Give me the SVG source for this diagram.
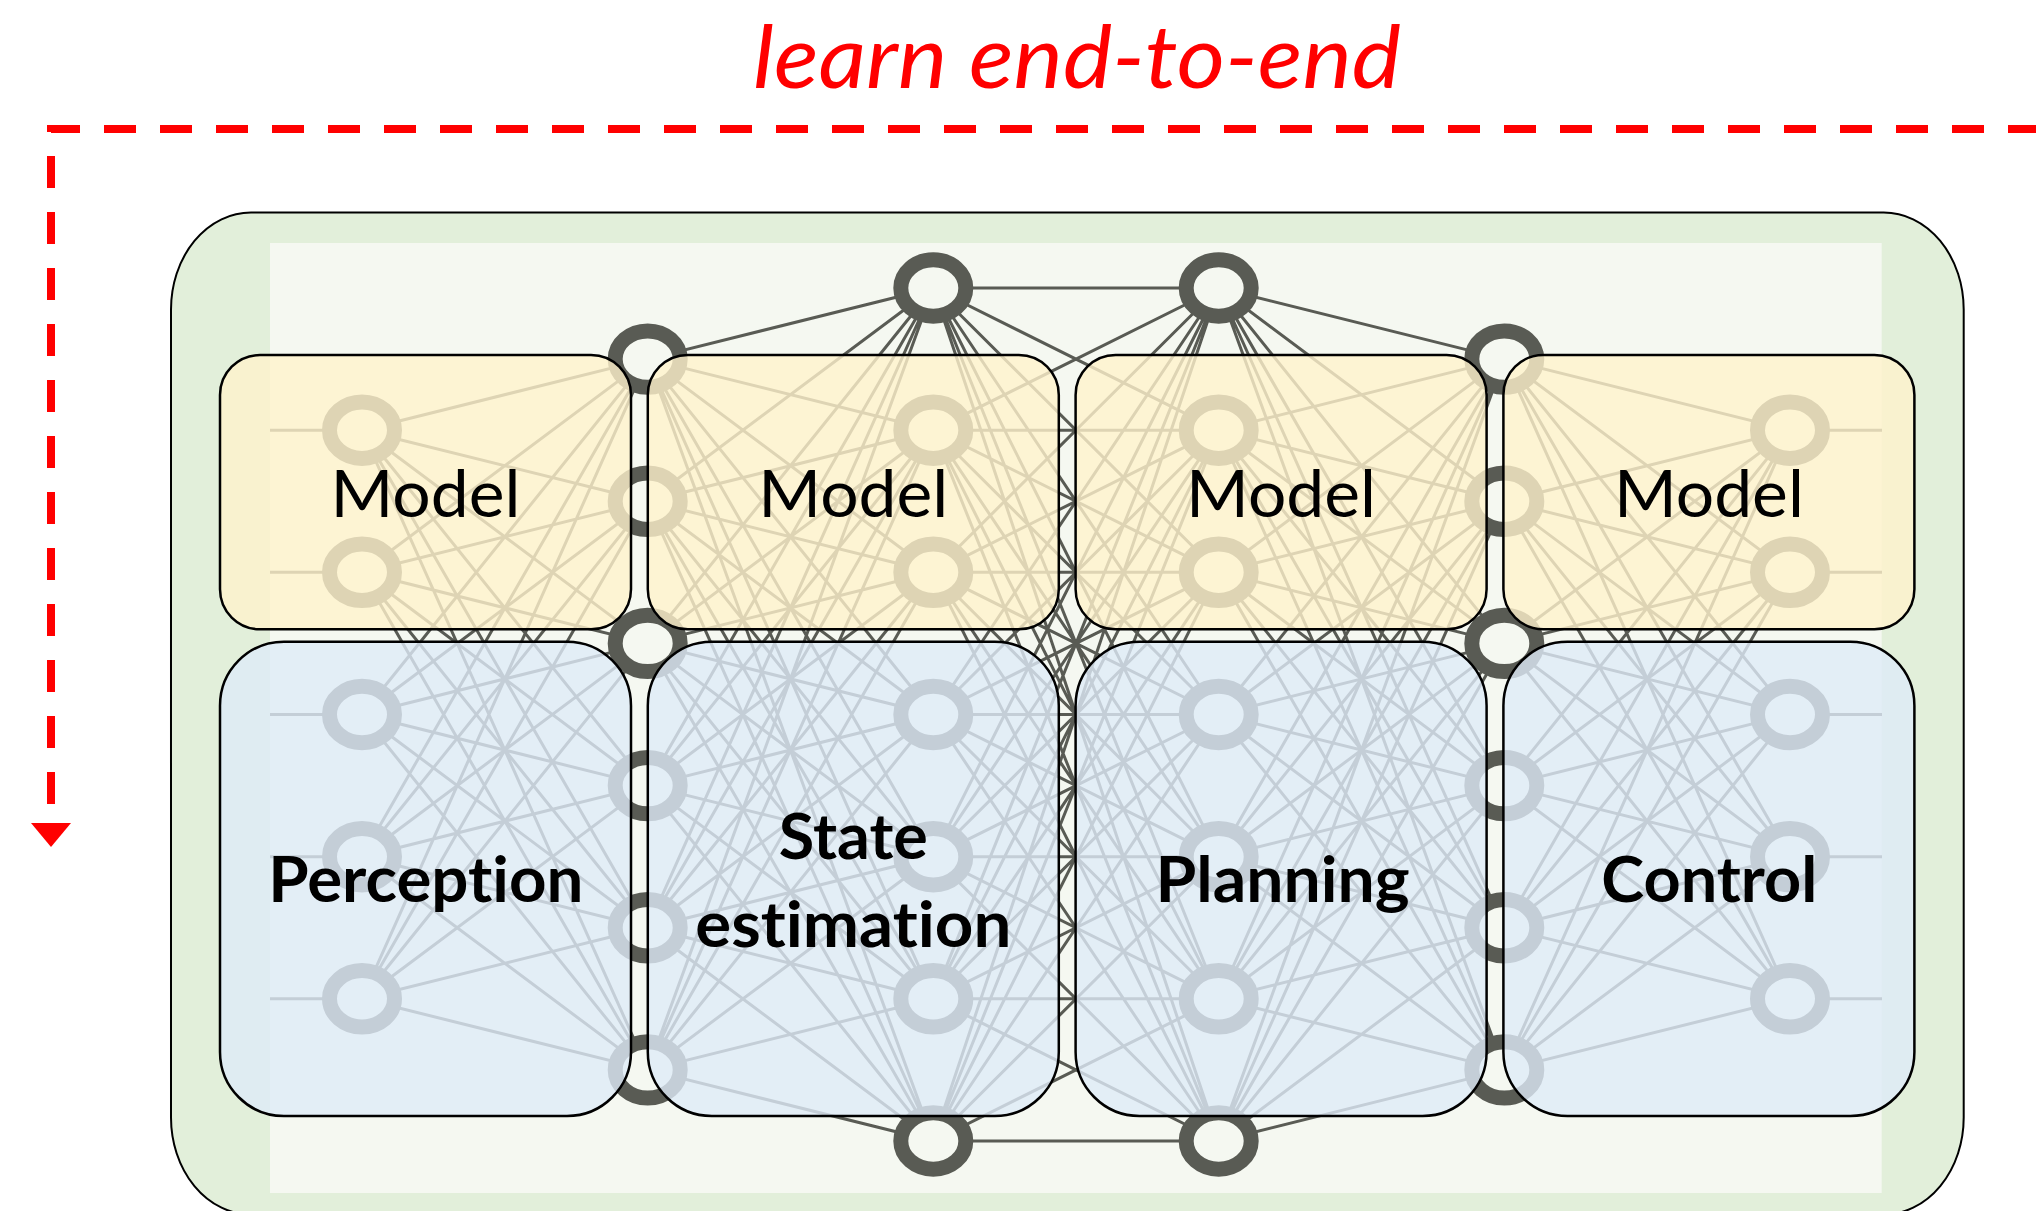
<svg xmlns="http://www.w3.org/2000/svg" xmlns:xlink="http://www.w3.org/1999/xlink" width="2036" height="1211" viewBox="0 0 2036 1211">
  <style>
    text { font-variant-ligatures: none; font-feature-settings: "liga" 0, "clig" 0; }
    .title { font-family: Lato, "Open Sans", "Liberation Sans", sans-serif; font-style: italic; font-size: 88px; fill: #ff0000; }
    .lbl { font-family: Lato, "Open Sans", "Liberation Sans", sans-serif; font-size: 66px; fill: #000; text-anchor: middle; }
    .lblb { font-family: Lato, "Open Sans", "Liberation Sans", sans-serif; font-size: 64px; font-weight: bold; fill: #000; text-anchor: middle; }
    .edge { fill: none; stroke: #595b54; stroke-width: 3; }
    .neuron { fill: #f5f8f1; stroke: #595b54; stroke-width: 15; }
    .model { fill: #fff2cc; fill-opacity: 0.8; stroke: #000; stroke-width: 2.5; }
    .stage { fill: #deebf7; fill-opacity: 0.8; stroke: #000; stroke-width: 2.5; }
    .e2e { fill: none; stroke: #ff0000; stroke-width: 8; stroke-dasharray: 32 24; }
  </style>
  <defs>
    <ellipse id="n" class="neuron" cx="0" cy="0" rx="32.5" ry="28.2"/>
    <marker id="ah" markerUnits="userSpaceOnUse" markerWidth="26" markerHeight="42" viewBox="0 -21 26 42" refX="0" refY="0" orient="auto">
      <path d="M0-20L24 0L0 20z" fill="#ff0000"/>
    </marker>
  </defs>

  <rect width="2036" height="1211" fill="#fff"/>

  <!-- pipeline container -->
  <rect x="171" y="212.5" width="1792.7" height="1002" rx="80" ry="97" fill="#e2efda" stroke="#000" stroke-width="2"/>
  <rect x="270" y="243" width="1611.7" height="950" fill="#f5f8f1"/>

  <!-- neural network backdrop -->
  <g id="network">
    <!-- middle layer pair C-D -->
    <path class="edge" d="M933.3 288L1218.7 288M933.3 288L1218.7 430.2M933.3 288L1218.7 572.3M933.3 288L1218.7 714.5M933.3 288L1218.7 856.7M933.3 288L1218.7 998.8M933.3 288L1218.7 1141
      M933.3 430.2L1218.7 288M933.3 430.2L1218.7 430.2M933.3 430.2L1218.7 572.3M933.3 430.2L1218.7 714.5M933.3 430.2L1218.7 856.7M933.3 430.2L1218.7 998.8M933.3 430.2L1218.7 1141
      M933.3 572.3L1218.7 288M933.3 572.3L1218.7 430.2M933.3 572.3L1218.7 572.3M933.3 572.3L1218.7 714.5M933.3 572.3L1218.7 856.7M933.3 572.3L1218.7 998.8M933.3 572.3L1218.7 1141
      M933.3 714.5L1218.7 288M933.3 714.5L1218.7 430.2M933.3 714.5L1218.7 572.3M933.3 714.5L1218.7 714.5M933.3 714.5L1218.7 856.7M933.3 714.5L1218.7 998.8M933.3 714.5L1218.7 1141
      M933.3 856.7L1218.7 288M933.3 856.7L1218.7 430.2M933.3 856.7L1218.7 572.3M933.3 856.7L1218.7 714.5M933.3 856.7L1218.7 856.7M933.3 856.7L1218.7 998.8M933.3 856.7L1218.7 1141
      M933.3 998.8L1218.7 288M933.3 998.8L1218.7 430.2M933.3 998.8L1218.7 572.3M933.3 998.8L1218.7 714.5M933.3 998.8L1218.7 856.7M933.3 998.8L1218.7 998.8M933.3 998.8L1218.7 1141
      M933.3 1141L1218.7 288M933.3 1141L1218.7 430.2M933.3 1141L1218.7 572.3M933.3 1141L1218.7 714.5M933.3 1141L1218.7 856.7M933.3 1141L1218.7 998.8M933.3 1141L1218.7 1141"/>

    <!-- left half: input, layers A, B, C -->
    <g id="half">
      <path class="edge" d="M270 430.2H362M270 572.3H362M270 714.5H362M270 856.7H362M270 998.8H362"/>
      <path class="edge" d="M362 430.2L647.7 359.1M362 430.2L647.7 501.3M362 430.2L647.7 643.4M362 430.2L647.7 785.6M362 430.2L647.7 927.8M362 430.2L647.7 1069.9
        M362 572.3L647.7 359.1M362 572.3L647.7 501.3M362 572.3L647.7 643.4M362 572.3L647.7 785.6M362 572.3L647.7 927.8M362 572.3L647.7 1069.9
        M362 714.5L647.7 359.1M362 714.5L647.7 501.3M362 714.5L647.7 643.4M362 714.5L647.7 785.6M362 714.5L647.7 927.8M362 714.5L647.7 1069.9
        M362 856.7L647.7 359.1M362 856.7L647.7 501.3M362 856.7L647.7 643.4M362 856.7L647.7 785.6M362 856.7L647.7 927.8M362 856.7L647.7 1069.9
        M362 998.8L647.7 359.1M362 998.8L647.7 501.3M362 998.8L647.7 643.4M362 998.8L647.7 785.6M362 998.8L647.7 927.8M362 998.8L647.7 1069.9"/>
      <path class="edge" d="M647.7 359.1L933.3 288M647.7 359.1L933.3 430.2M647.7 359.1L933.3 572.3M647.7 359.1L933.3 714.5M647.7 359.1L933.3 856.7M647.7 359.1L933.3 998.8M647.7 359.1L933.3 1141
        M647.7 501.3L933.3 288M647.7 501.3L933.3 430.2M647.7 501.3L933.3 572.3M647.7 501.3L933.3 714.5M647.7 501.3L933.3 856.7M647.7 501.3L933.3 998.8M647.7 501.3L933.3 1141
        M647.7 643.4L933.3 288M647.7 643.4L933.3 430.2M647.7 643.4L933.3 572.3M647.7 643.4L933.3 714.5M647.7 643.4L933.3 856.7M647.7 643.4L933.3 998.8M647.7 643.4L933.3 1141
        M647.7 785.6L933.3 288M647.7 785.6L933.3 430.2M647.7 785.6L933.3 572.3M647.7 785.6L933.3 714.5M647.7 785.6L933.3 856.7M647.7 785.6L933.3 998.8M647.7 785.6L933.3 1141
        M647.7 927.8L933.3 288M647.7 927.8L933.3 430.2M647.7 927.8L933.3 572.3M647.7 927.8L933.3 714.5M647.7 927.8L933.3 856.7M647.7 927.8L933.3 998.8M647.7 927.8L933.3 1141
        M647.7 1069.9L933.3 288M647.7 1069.9L933.3 430.2M647.7 1069.9L933.3 572.3M647.7 1069.9L933.3 714.5M647.7 1069.9L933.3 856.7M647.7 1069.9L933.3 998.8M647.7 1069.9L933.3 1141"/>
      <!-- layer A -->
      <use xlink:href="#n" x="362" y="430.2"/>
      <use xlink:href="#n" x="362" y="572.3"/>
      <use xlink:href="#n" x="362" y="714.5"/>
      <use xlink:href="#n" x="362" y="856.7"/>
      <use xlink:href="#n" x="362" y="998.8"/>
      <!-- layer B -->
      <use xlink:href="#n" x="647.7" y="359.1"/>
      <use xlink:href="#n" x="647.7" y="501.3"/>
      <use xlink:href="#n" x="647.7" y="643.4"/>
      <use xlink:href="#n" x="647.7" y="785.6"/>
      <use xlink:href="#n" x="647.7" y="927.8"/>
      <use xlink:href="#n" x="647.7" y="1069.9"/>
      <!-- layer C -->
      <use xlink:href="#n" x="933.3" y="288"/>
      <use xlink:href="#n" x="933.3" y="430.2"/>
      <use xlink:href="#n" x="933.3" y="572.3"/>
      <use xlink:href="#n" x="933.3" y="714.5"/>
      <use xlink:href="#n" x="933.3" y="856.7"/>
      <use xlink:href="#n" x="933.3" y="998.8"/>
      <use xlink:href="#n" x="933.3" y="1141"/>
    </g>
    <!-- right half (layers D, E, F, output) mirrors the left half -->
    <use xlink:href="#half" transform="matrix(-1 0 0 1 2152 0)"/>
  </g>

  <!-- model row -->
  <g id="model-1"><rect class="model" x="220" y="355" width="411" height="274.3" rx="40"/><text class="lbl" x="425.5" y="516.5" textLength="190" lengthAdjust="spacingAndGlyphs">Model</text></g>
  <g id="model-2"><rect class="model" x="647.8" y="355" width="411" height="274.3" rx="40"/><text class="lbl" x="853.3" y="516.5" textLength="190" lengthAdjust="spacingAndGlyphs">Model</text></g>
  <g id="model-3"><rect class="model" x="1075.6" y="355" width="411" height="274.3" rx="40"/><text class="lbl" x="1281.1" y="516.5" textLength="190" lengthAdjust="spacingAndGlyphs">Model</text></g>
  <g id="model-4"><rect class="model" x="1503.4" y="355" width="411" height="274.3" rx="40"/><text class="lbl" x="1708.9" y="516.5" textLength="190" lengthAdjust="spacingAndGlyphs">Model</text></g>

  <!-- pipeline stages -->
  <g id="perception"><rect class="stage" x="220" y="641.7" width="411" height="474.3" rx="64"/><text class="lblb" x="425.8" y="901.7" textLength="315" lengthAdjust="spacingAndGlyphs">Perception</text></g>
  <g id="state-estimation"><rect class="stage" x="647.8" y="641.7" width="411" height="474.3" rx="64"/><text class="lblb" x="853.3" y="859" textLength="149" lengthAdjust="spacingAndGlyphs">State</text><text class="lblb" x="853.3" y="946.8" textLength="316" lengthAdjust="spacingAndGlyphs">estimation</text></g>
  <g id="planning"><rect class="stage" x="1075.6" y="641.7" width="411" height="474.3" rx="64"/><text class="lblb" x="1282.5" y="902" textLength="254" lengthAdjust="spacingAndGlyphs">Planning</text></g>
  <g id="control"><rect class="stage" x="1503.4" y="641.7" width="411" height="474.3" rx="64"/><text class="lblb" x="1709.3" y="902" textLength="216" lengthAdjust="spacingAndGlyphs">Control</text></g>

  <!-- end-to-end learning loop -->
  <g id="connectors">
    <path class="e2e" d="M2040 129H51V823" marker-end="url(#ah)"/>
  </g>
  <text class="title" x="1077" y="87.7" text-anchor="middle" textLength="648" lengthAdjust="spacingAndGlyphs">learn end-to-end</text>
</svg>
